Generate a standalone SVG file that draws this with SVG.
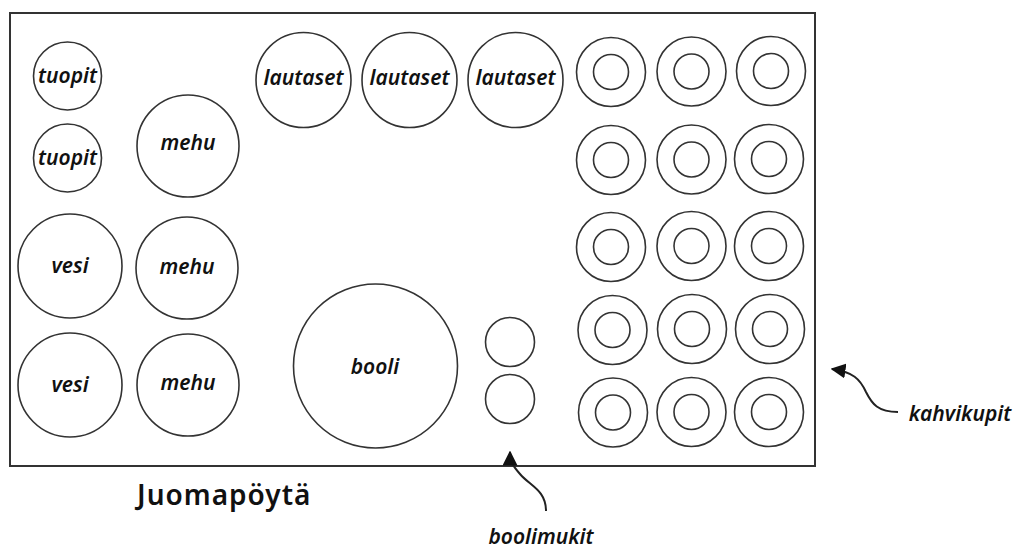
<svg xmlns="http://www.w3.org/2000/svg" width="1016" height="550" viewBox="0 0 1016 550">
<defs>
<style>
.c{fill:#fff;stroke:#333;stroke-width:1.6}
.k{fill:none;stroke:#333;stroke-width:1.6}
.t{font-family:"Noto Sans","DejaVu Sans",sans-serif;font-style:italic;font-weight:600;font-size:21px;fill:#111;text-anchor:middle}
.ttl{font-family:"Noto Sans","DejaVu Sans",sans-serif;font-weight:600;font-size:28px;letter-spacing:1px;fill:#111}
.con{fill:none;stroke:#222;stroke-width:2}
</style>
<marker id="ah2" viewBox="0 0 10 10" refX="9" refY="5" markerWidth="15" markerHeight="15" orient="auto" markerUnits="userSpaceOnUse">
<path d="M0,0 L10,5 L0,10 z" fill="#111"/>
</marker>
</defs>
<rect width="1016" height="550" fill="#fff"/>
<g id="table"><rect x="10" y="13" width="805" height="453" fill="none" stroke="#333" stroke-width="2"/></g>

<g id="tuopit1"><circle class="c" cx="67.5" cy="76" r="34"/><text class="t" x="67.5" y="83">tuopit</text></g>
<g id="tuopit2"><circle class="c" cx="67.5" cy="158" r="34"/><text class="t" x="67.5" y="165">tuopit</text></g>
<g id="mehu1"><circle class="c" cx="188" cy="146" r="51"/><text class="t" x="188" y="150">mehu</text></g>
<g id="vesi1"><circle class="c" cx="70" cy="266" r="52"/><text class="t" x="70" y="273">vesi</text></g>
<g id="mehu2"><circle class="c" cx="187" cy="268" r="51"/><text class="t" x="187" y="274">mehu</text></g>
<g id="vesi2"><circle class="c" cx="70" cy="385" r="52"/><text class="t" x="70" y="392">vesi</text></g>
<g id="mehu3"><circle class="c" cx="188" cy="385" r="51"/><text class="t" x="188" y="390">mehu</text></g>

<g id="lautaset1"><circle class="c" cx="303.5" cy="80" r="47.5"/><text class="t" x="303.5" y="85">lautaset</text></g>
<g id="lautaset2"><circle class="c" cx="409.5" cy="80" r="47.5"/><text class="t" x="409.5" y="85">lautaset</text></g>
<g id="lautaset3"><circle class="c" cx="515.5" cy="80" r="47.5"/><text class="t" x="515.5" y="85">lautaset</text></g>

<g id="booli"><circle class="c" cx="375.5" cy="366" r="82"/><text class="t" x="375" y="374">booli</text></g>
<g id="boolimuki1"><circle class="c" cx="510" cy="342" r="24.5"/></g>
<g id="boolimuki2"><circle class="c" cx="510" cy="399" r="24.5"/></g>

<g id="kahvikupit">
<g id="kuppi-1-1"><circle class="k" cx="611" cy="72" r="34.5"/><circle class="k" cx="611" cy="72" r="17.5"/></g>
<g id="kuppi-1-2"><circle class="k" cx="691.5" cy="71.5" r="34.5"/><circle class="k" cx="691.5" cy="71.5" r="17.5"/></g>
<g id="kuppi-1-3"><circle class="k" cx="771" cy="71" r="34.5"/><circle class="k" cx="771" cy="71" r="17.5"/></g>
<g id="kuppi-2-1"><circle class="k" cx="611" cy="160" r="34.5"/><circle class="k" cx="611" cy="160" r="17.5"/></g>
<g id="kuppi-2-2"><circle class="k" cx="691.5" cy="159.5" r="34.5"/><circle class="k" cx="691.5" cy="159.5" r="17.5"/></g>
<g id="kuppi-2-3"><circle class="k" cx="769" cy="159" r="34.5"/><circle class="k" cx="769" cy="159" r="17.5"/></g>
<g id="kuppi-3-1"><circle class="k" cx="611" cy="247" r="34.5"/><circle class="k" cx="611" cy="247" r="17.5"/></g>
<g id="kuppi-3-2"><circle class="k" cx="691.5" cy="246" r="34.5"/><circle class="k" cx="691.5" cy="246" r="17.5"/></g>
<g id="kuppi-3-3"><circle class="k" cx="769" cy="246" r="34.5"/><circle class="k" cx="769" cy="246" r="17.5"/></g>
<g id="kuppi-4-1"><circle class="k" cx="612.5" cy="330" r="34.5"/><circle class="k" cx="612.5" cy="330" r="17.5"/></g>
<g id="kuppi-4-2"><circle class="k" cx="692" cy="329" r="34.5"/><circle class="k" cx="692" cy="329" r="17.5"/></g>
<g id="kuppi-4-3"><circle class="k" cx="770" cy="329" r="34.5"/><circle class="k" cx="770" cy="329" r="17.5"/></g>
<g id="kuppi-5-1"><circle class="k" cx="613" cy="412.5" r="34.5"/><circle class="k" cx="613" cy="412.5" r="17.5"/></g>
<g id="kuppi-5-2"><circle class="k" cx="691.5" cy="412" r="34.5"/><circle class="k" cx="691.5" cy="412" r="17.5"/></g>
<g id="kuppi-5-3"><circle class="k" cx="769" cy="412" r="34.5"/><circle class="k" cx="769" cy="412" r="17.5"/></g>
</g>

<g id="connectors">
<path class="con" d="M546,511 C546,490 530,486 520,474 C513,466 510,462 510,452" marker-end="url(#ah2)"/>
<path class="con" d="M898,412 C878,412 872,404 866,392 C860,379 853,372 832,369" marker-end="url(#ah2)"/>
</g>

<g id="labels">
<text class="ttl" x="137" y="505">Juomapöytä</text>
<text class="t" x="960" y="421">kahvikupit</text>
<text class="t" x="541" y="544">boolimukit</text>
</g>
</svg>
